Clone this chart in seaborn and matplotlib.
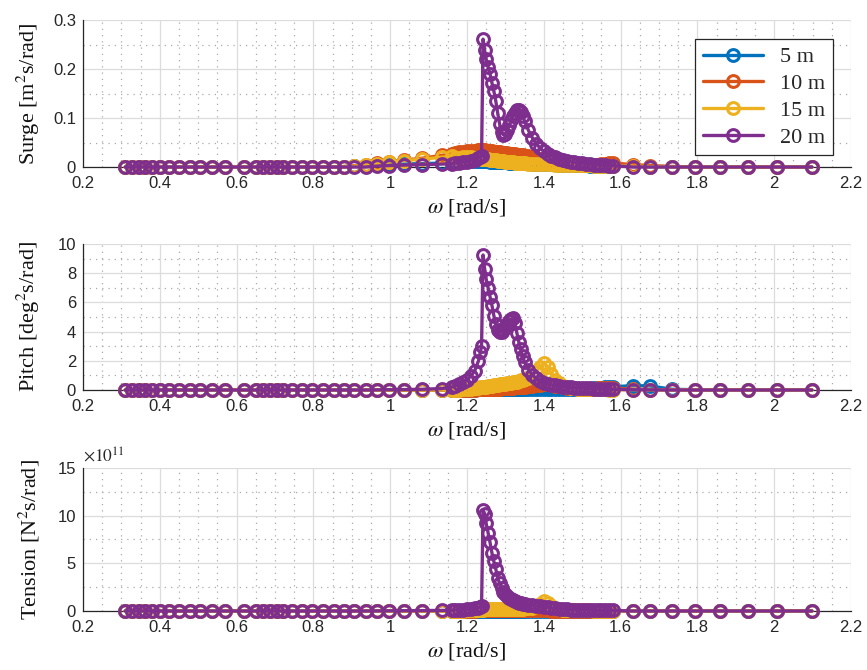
import matplotlib
matplotlib.use("Agg")
import matplotlib.pyplot as plt
import seaborn as sns
import pandas as pd
from matplotlib.ticker import MultipleLocator, FuncFormatter
from matplotlib.lines import Line2D

# ---------------- data ----------------
OMEGA = [0.31, 0.328, 0.345, 0.362, 0.38, 0.40, 0.425, 0.45, 0.478, 0.505,
         0.535, 0.57, 0.62, 0.65, 0.668, 0.686, 0.704, 0.722, 0.745, 0.77,
         0.797, 0.825, 0.855, 0.88, 0.906, 0.936, 0.966, 0.997, 1.036, 1.083,
         1.135, 1.16,
         1.17, 1.18, 1.19, 1.20, 1.21, 1.22, 1.23, 1.235, 1.238, 1.242, 1.246,
         1.25, 1.255, 1.26, 1.265, 1.27, 1.275, 1.28, 1.285, 1.29, 1.295,
         1.30, 1.305, 1.31, 1.315, 1.32, 1.325, 1.33, 1.335, 1.34, 1.345, 1.35,
         1.36, 1.37, 1.38, 1.39, 1.40, 1.41, 1.42, 1.43, 1.44, 1.45,
         1.46, 1.47, 1.48, 1.49, 1.50, 1.51, 1.52, 1.53, 1.54, 1.55,
         1.56, 1.57, 1.58,
         1.632, 1.677, 1.734, 1.794, 1.859, 1.932, 2.007, 2.098]

DEPTHS = ["5 m", "10 m", "15 m", "20 m"]
COLORS = ["#0072BD", "#D95319", "#EDB120", "#7E2F8E"]

# Surge [m^2 s/rad]
SURGE_5M = [0, 0, 0, 0, 0, 0, 0, 0, 0, 0, 0, 0, 0, 0, 0, 0, 0, 0, 0, 0,
            0, 0, 0, 0.001, 0.002, 0.003, 0.004, 0.005, 0.006, 0.007, 0.008, 0.009,
            0.010, 0.011, 0.012, 0.012, 0.012, 0.012, 0.012, 0.012, 0.012, 0.012, 0.012,
            0.012, 0.012, 0.011, 0.011, 0.011, 0.011, 0.011, 0.010, 0.010, 0.010,
            0.010, 0.010, 0.009, 0.009, 0.009, 0.009, 0.009, 0.008, 0.008, 0.008, 0.008,
            0.008, 0.007, 0.007, 0.007, 0.006, 0.006, 0.006, 0.006, 0.005, 0.005,
            0.005, 0.005, 0.004, 0.004, 0.004, 0.004, 0.003, 0.003, 0.003, 0.003,
            0.003, 0.002, 0.002,
            0.002, 0.001, 0.001, 0, 0, 0, 0, 0]
SURGE_10M = [0, 0, 0, 0, 0, 0, 0, 0, 0, 0, 0, 0, 0, 0, 0, 0, 0, 0, 0, 0,
             0, 0, 0, 0.001, 0.003, 0.005, 0.008, 0.011, 0.014, 0.018, 0.024, 0.027,
             0.028, 0.030, 0.031, 0.032, 0.033, 0.033, 0.034, 0.034, 0.034, 0.034, 0.034,
             0.033, 0.033, 0.032, 0.032, 0.031, 0.031, 0.030, 0.030, 0.029, 0.029,
             0.028, 0.028, 0.027, 0.027, 0.026, 0.026, 0.025, 0.025, 0.024, 0.024, 0.023,
             0.022, 0.020, 0.019, 0.017, 0.016, 0.014, 0.013, 0.012, 0.010, 0.009,
             0.008, 0.007, 0.006, 0.006, 0.005, 0.005, 0.005, 0.005, 0.005, 0.006,
             0.007, 0.008, 0.008,
             0.005, 0.003, 0.001, 0, 0, 0, 0, 0]
SURGE_15M = [0, 0, 0, 0, 0, 0, 0, 0, 0, 0, 0, 0, 0, 0, 0, 0, 0, 0, 0, 0,
             0, 0, 0, 0, 0.002, 0.004, 0.007, 0.010, 0.013, 0.016, 0.020, 0.022,
             0.018, 0.019, 0.020, 0.020, 0.020, 0.019, 0.018, 0.018, 0.017, 0.017, 0.017,
             0.016, 0.016, 0.015, 0.015, 0.014, 0.014, 0.013, 0.013, 0.012, 0.012,
             0.011, 0.011, 0.010, 0.010, 0.010, 0.009, 0.009, 0.009, 0.008, 0.008, 0.008,
             0.007, 0.007, 0.007, 0.006, 0.006, 0.006, 0.006, 0.005, 0.005, 0.005,
             0.005, 0.005, 0.004, 0.004, 0.004, 0.004, 0.004, 0.003, 0.003, 0.003,
             0.003, 0.003, 0.003,
             0.002, 0.001, 0, 0, 0, 0, 0, 0]
SURGE_20M = [0, 0, 0, 0, 0, 0, 0, 0, 0, 0, 0, 0, 0, 0, 0, 0, 0, 0, 0, 0,
             0, 0, 0, 0, 0, 0, 0.002, 0.003, 0.004, 0.005, 0.006, 0.007,
             0.008, 0.009, 0.010, 0.011, 0.013, 0.015, 0.018, 0.020, 0.022, 0.261, 0.238,
             0.220, 0.205, 0.190, 0.172, 0.155, 0.135, 0.110, 0.088, 0.072, 0.066,
             0.068, 0.075, 0.085, 0.095, 0.104, 0.111, 0.116, 0.117, 0.113, 0.104, 0.094,
             0.075, 0.060, 0.048, 0.039, 0.032, 0.027, 0.023, 0.020, 0.017, 0.015,
             0.013, 0.011, 0.010, 0.009, 0.008, 0.007, 0.006, 0.005, 0.005, 0.004,
             0.004, 0.003, 0.003,
             0, 0, 0, 0, 0, 0, 0, 0]

# Pitch [deg^2 s/rad]
PITCH_5M = [0, 0, 0, 0, 0, 0, 0, 0, 0, 0, 0, 0, 0, 0, 0, 0, 0, 0, 0, 0,
            0, 0, 0, 0, 0, 0, 0, 0, 0, 0, 0, 0,
            0.01, 0.01, 0.02, 0.02, 0.03, 0.03, 0.04, 0.04, 0.04, 0.05, 0.05,
            0.05, 0.06, 0.06, 0.07, 0.07, 0.08, 0.08, 0.08, 0.08, 0.08,
            0.08, 0.08, 0.07, 0.07, 0.07, 0.06, 0.06, 0.06, 0.05, 0.05, 0.05,
            0.05, 0.05, 0.04, 0.04, 0.04, 0.04, 0.04, 0.04, 0.04, 0.04,
            0.05, 0.05, 0.06, 0.07, 0.08, 0.09, 0.10, 0.12, 0.14, 0.16,
            0.18, 0.20, 0.22,
            0.30, 0.28, 0.05, 0.02, 0, 0, 0, 0]
PITCH_10M = [0, 0, 0, 0, 0, 0, 0, 0, 0, 0, 0, 0, 0, 0, 0, 0, 0, 0, 0, 0,
             0, 0, 0, 0, 0, 0, 0, 0, 0, 0, 0, 0,
             0.01, 0.01, 0.02, 0.02, 0.03, 0.03, 0.04, 0.04, 0.05, 0.05, 0.05,
             0.06, 0.06, 0.07, 0.07, 0.08, 0.08, 0.09, 0.10, 0.11, 0.12,
             0.13, 0.14, 0.15, 0.16, 0.17, 0.18, 0.19, 0.20, 0.21, 0.22, 0.24,
             0.27, 0.30, 0.33, 0.36, 0.38, 0.38, 0.35, 0.30, 0.25, 0.21,
             0.17, 0.14, 0.12, 0.10, 0.09, 0.08, 0.08, 0.09, 0.11, 0.14,
             0.17, 0.17, 0.13,
             0.06, 0.03, 0.01, 0, 0, 0, 0, 0]
PITCH_15M = [0, 0, 0, 0, 0, 0, 0, 0, 0, 0, 0, 0, 0, 0, 0, 0, 0, 0, 0, 0,
             0, 0, 0, 0, 0, 0, 0, 0, 0, 0, 0, 0,
             0.02, 0.03, 0.05, 0.08, 0.10, 0.13, 0.16, 0.18, 0.19, 0.20, 0.22,
             0.24, 0.26, 0.28, 0.30, 0.32, 0.34, 0.36, 0.38, 0.40, 0.42,
             0.44, 0.46, 0.48, 0.50, 0.52, 0.55, 0.58, 0.62, 0.66, 0.70, 0.75,
             0.85, 1.00, 1.25, 1.60, 1.85, 1.60, 1.10, 0.70, 0.45, 0.30,
             0.22, 0.17, 0.13, 0.10, 0.08, 0.07, 0.06, 0.05, 0.05, 0.04,
             0.04, 0.03, 0.03,
             0.02, 0.01, 0, 0, 0, 0, 0, 0]
PITCH_20M = [0, 0, 0, 0, 0, 0, 0, 0, 0, 0, 0, 0, 0, 0, 0, 0, 0, 0, 0, 0,
             0, 0, 0, 0, 0, 0, 0.01, 0.02, 0.03, 0.05, 0.10, 0.20,
             0.30, 0.40, 0.55, 0.70, 0.95, 1.30, 2.00, 2.60, 3.00, 9.25, 8.30,
             7.60, 7.00, 6.40, 5.80, 5.10, 4.50, 4.10, 3.95, 4.00, 4.10,
             4.30, 4.50, 4.70, 4.85, 4.90, 4.60, 3.90, 3.30, 2.80, 2.30, 1.90,
             1.40, 1.05, 0.80, 0.62, 0.50, 0.42, 0.36, 0.31, 0.27, 0.24,
             0.21, 0.19, 0.17, 0.15, 0.14, 0.12, 0.11, 0.10, 0.09, 0.08,
             0.07, 0.06, 0.05,
             0.02, 0.01, 0, 0, 0, 0, 0, 0]

# Tension [N^2 s/rad], in units of 1e11
TENSION_5M = [0, 0, 0, 0, 0, 0, 0, 0, 0, 0, 0, 0, 0, 0, 0, 0, 0, 0, 0, 0,
              0, 0, 0, 0, 0, 0, 0, 0, 0, 0, 0, 0,
              0.01, 0.01, 0.01, 0.01, 0.01, 0.01, 0.01, 0.01, 0.01, 0.01, 0.01,
              0.01, 0.01, 0.01, 0.01, 0.01, 0.01, 0.01, 0.01, 0.01, 0.01,
              0.01, 0.01, 0.01, 0.01, 0.01, 0.01, 0.01, 0.01, 0.01, 0.01, 0.01,
              0.01, 0.01, 0.01, 0.01, 0.01, 0.01, 0.01, 0.01, 0.01, 0.01,
              0.01, 0.01, 0.01, 0.01, 0.01, 0.01, 0.01, 0.01, 0.01, 0.01,
              0.01, 0.01, 0.01,
              0.01, 0.01, 0, 0, 0, 0, 0, 0]
TENSION_10M = [0, 0, 0, 0, 0, 0, 0, 0, 0, 0, 0, 0, 0, 0, 0, 0, 0, 0, 0, 0,
               0, 0, 0, 0, 0, 0, 0, 0, 0, 0, 0.01, 0.01,
               0.02, 0.02, 0.03, 0.03, 0.04, 0.04, 0.05, 0.05, 0.05, 0.05, 0.05,
               0.05, 0.05, 0.05, 0.05, 0.05, 0.05, 0.05, 0.05, 0.05, 0.05,
               0.05, 0.05, 0.05, 0.05, 0.05, 0.05, 0.05, 0.05, 0.05, 0.05, 0.05,
               0.05, 0.05, 0.05, 0.05, 0.05, 0.05, 0.04, 0.04, 0.04, 0.04,
               0.03, 0.03, 0.03, 0.03, 0.03, 0.02, 0.02, 0.02, 0.02, 0.02,
               0.02, 0.02, 0.02,
               0.01, 0.01, 0, 0, 0, 0, 0, 0]
TENSION_15M = [0, 0, 0, 0, 0, 0, 0, 0, 0, 0, 0, 0, 0, 0, 0, 0, 0, 0, 0, 0,
               0, 0, 0, 0, 0, 0, 0, 0, 0, 0, 0, 0,
               0.02, 0.03, 0.04, 0.05, 0.06, 0.08, 0.10, 0.12, 0.13, 0.15, 0.18,
               0.20, 0.21, 0.22, 0.22, 0.23, 0.23, 0.23, 0.23, 0.23, 0.23,
               0.23, 0.23, 0.23, 0.23, 0.23, 0.23, 0.23, 0.24, 0.24, 0.25, 0.26,
               0.30, 0.36, 0.48, 0.70, 1.00, 0.85, 0.55, 0.35, 0.22, 0.15,
               0.12, 0.10, 0.08, 0.07, 0.06, 0.05, 0.05, 0.04, 0.04, 0.03,
               0.03, 0.03, 0.02,
               0.01, 0, 0, 0, 0, 0, 0, 0]
TENSION_20M = [0, 0, 0, 0, 0, 0, 0, 0, 0, 0, 0, 0, 0, 0, 0, 0, 0, 0, 0, 0,
               0, 0, 0, 0, 0, 0, 0.01, 0.02, 0.03, 0.04, 0.06, 0.08,
               0.10, 0.12, 0.15, 0.18, 0.22, 0.27, 0.35, 0.42, 0.50, 10.6, 10.2,
               9.20, 8.20, 7.20, 6.10, 5.20, 4.40, 3.50, 2.90, 2.40, 2.00,
               1.75, 1.55, 1.40, 1.25, 1.12, 1.02, 0.95, 0.88, 0.82, 0.77, 0.72,
               0.64, 0.58, 0.53, 0.48, 0.43, 0.38, 0.32, 0.27, 0.23, 0.20,
               0.17, 0.15, 0.13, 0.12, 0.11, 0.10, 0.09, 0.08, 0.07, 0.07,
               0.06, 0.06, 0.05,
               0, 0, 0, 0, 0, 0, 0, 0]

PANELS = [
    ("Surge [m$^2$s/rad]", [SURGE_5M, SURGE_10M, SURGE_15M, SURGE_20M], (0, 0.3), 0.1, 0.05),
    ("Pitch [deg$^2$s/rad]", [PITCH_5M, PITCH_10M, PITCH_15M, PITCH_20M], (0, 10), 2, 1),
    ("Tension [N$^2$s/rad]", [TENSION_5M, TENSION_10M, TENSION_15M, TENSION_20M], (0, 15), 5, 2.5),
]

# ---------------- style ----------------
sns.set_style("white")
plt.rcParams["font.family"] = ["Liberation Serif", "DejaVu Serif"]
plt.rcParams["mathtext.fontset"] = "stix"

fig = plt.figure(figsize=(8.67, 6.70), dpi=100)
positions = [
    [0.0957, 0.7507, 0.8858, 0.2194],
    [0.0957, 0.4179, 0.8858, 0.2179],
    [0.0957, 0.0881, 0.8858, 0.2134],
]

fmt = FuncFormatter(lambda v, p: f"{v:g}")
LW, MS, MEW = 2.4, 8.5, 2.2

for (ylabel, series, ylim, major, minor), pos in zip(PANELS, positions):
    ax = fig.add_axes(pos)
    for vals, label, color in zip(series, DEPTHS, COLORS):
        df = pd.DataFrame({"omega": OMEGA, "value": vals})
        sns.lineplot(data=df, x="omega", y="value", ax=ax, color=color,
                     estimator=None, sort=False, legend=False,
                     linewidth=LW, marker="o", markersize=MS,
                     markerfacecolor="none", markeredgecolor=color,
                     markeredgewidth=MEW, clip_on=False, zorder=3)
    ax.set_xlim(0.2, 2.2)
    ax.set_ylim(*ylim)
    ax.xaxis.set_major_locator(MultipleLocator(0.2))
    ax.xaxis.set_minor_locator(MultipleLocator(0.05))
    ax.yaxis.set_major_locator(MultipleLocator(major))
    ax.yaxis.set_minor_locator(MultipleLocator(minor))
    ax.xaxis.set_major_formatter(fmt)
    ax.yaxis.set_major_formatter(fmt)
    ax.grid(True, which="major", color="#dcdcdc", linewidth=0.9, linestyle="-")
    ax.grid(True, which="minor", color="#aaaaaa", linewidth=0.9, linestyle=(0, (1, 4)))
    ax.set_axisbelow(True)
    for s in ["top", "right"]:
        ax.spines[s].set_visible(False)
    for s in ["left", "bottom"]:
        ax.spines[s].set_color("#262626")
        ax.spines[s].set_linewidth(0.9)
    ax.tick_params(which="major", direction="in", length=4, width=0.9,
                   color="#262626", labelsize=12, labelcolor="#262626",
                   labelfontfamily="Liberation Sans")
    ax.tick_params(axis="x", which="major", pad=6.5)
    ax.tick_params(axis="y", which="major", pad=5)
    ax.tick_params(which="minor", length=0)
    ax.set_xlabel(r"$\omega$ [rad/s]", fontsize=16, color="#111111", labelpad=4.5)
    ax.set_ylabel(ylabel, fontsize=16, color="#111111")
    ax.yaxis.set_label_coords(-0.053, 0.5)
    if ylabel.startswith("Tension"):
        ax.text(0.0, 1.012, r"$\times 10^{11}$", transform=ax.transAxes,
                ha="left", va="bottom", fontsize=12.5, color="#262626")
    if ylabel.startswith("Surge"):
        handles = [Line2D([], [], color=c, linewidth=LW, marker="o", markersize=MS,
                          markerfacecolor="none", markeredgecolor=c, markeredgewidth=MEW)
                   for c in COLORS]
        leg = ax.legend(handles, DEPTHS, loc="upper right", bbox_to_anchor=(0.977, 0.871),
                        borderaxespad=0, frameon=True, fancybox=False, framealpha=1,
                        edgecolor="#262626", prop={"family": "Liberation Serif", "size": 16},
                        handlelength=2.7, handletextpad=0.8, labelspacing=0.28,
                        borderpad=0.35)
        leg.get_frame().set_linewidth(0.9)
        leg.set_zorder(5)

fig.savefig("out.png", dpi=100, facecolor="white")
